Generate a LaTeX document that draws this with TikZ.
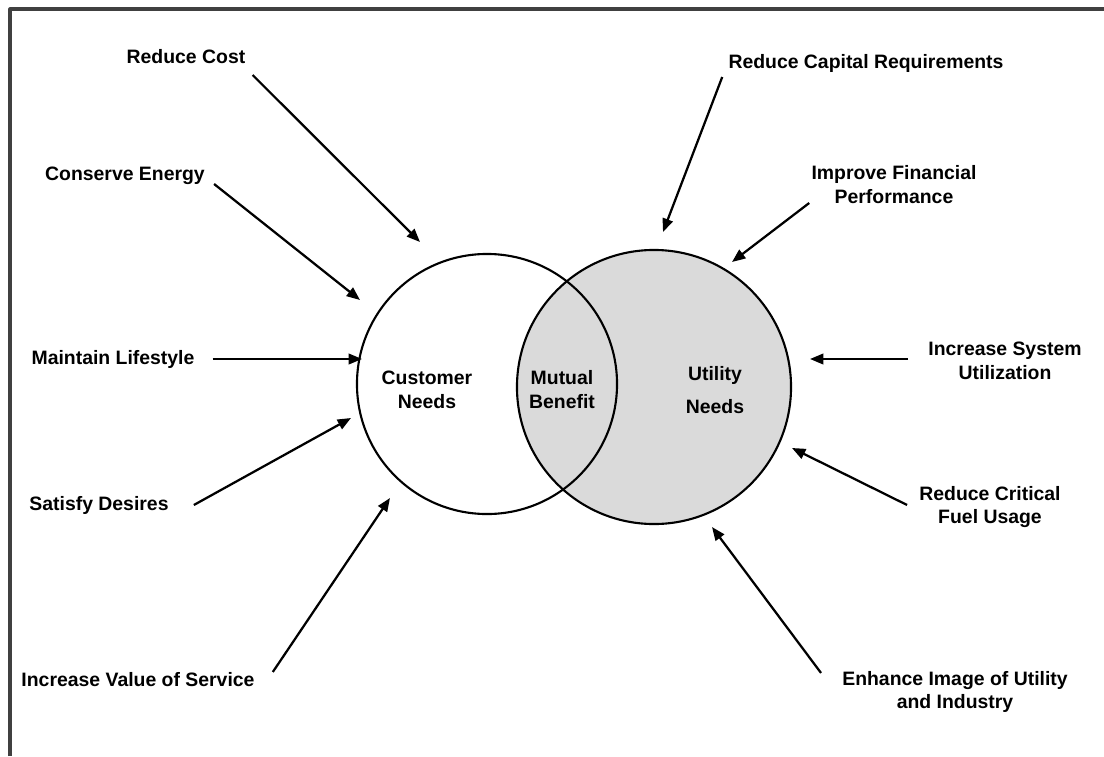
\documentclass[tikz,border=0pt]{standalone}
\usepackage{fontspec}
\setmainfont{Liberation Sans}
\usetikzlibrary{arrows.meta,positioning,calc}
\definecolor{venn}{RGB}{218,218,218}
\tikzset{lab/.style={font=\bfseries\fontsize{13.8}{17}\selectfont, align=center, inner sep=0pt},
         arr/.style={line width=1.6pt, -{Triangle[length=9.5pt,width=7.5pt]}},
         ring/.style={circle, draw, line width=1.5pt, inner sep=0pt}}
\begin{document}
\begin{tikzpicture}[x=0.025cm, y=-0.025cm, line join=round]
\useasboundingbox (0,0) rectangle (1104,756);
\draw[line width=2.2pt, black!75] (10,756) -- (10,9) -- (1104,9);
\node[ring, fill=venn, minimum size=6.85cm] (U) at (654,387) {};
\node[ring, minimum size=6.5cm] (C) at (487,384) {};
\node[lab] (cn) at (427,390) {Customer\\Needs};
\node[lab] (mb) at (562,390) {Mutual\\Benefit};
\node[lab] (un) at (715,390) {Utility\\[7pt]Needs};
\node[lab] (rc) at (186,57)  {Reduce Cost};
\node[lab] (ce) at (125,176) {Conserve Energy};
\node[lab] (ml) at (113,359) {Maintain Lifestyle};
\node[lab] (sd) at (99,505)  {Satisfy Desires};
\node[lab] (iv) at (138,680) {Increase Value of Service};
\node[lab] (rq) at (866,63)  {Reduce Capital Requirements};
\node[lab] (fp) at (894,185) {Improve Financial\\Performance};
\node[lab] (su) at (1005,361) {Increase System\\Utilization};
\node[lab] (fu) at (990,507) {Reduce Critical\\Fuel Usage};
\node[lab] (ei) at (955,692) {Enhance Image of Utility\\and Industry};
\coordinate (t1) at (420,242);
\coordinate (t2) at (360,300);
\coordinate (t3) at (362,359);
\coordinate (t4) at (351,418);
\coordinate (t5) at (390,498);
\coordinate (t6) at (663,232);
\coordinate (t7) at (732,262);
\coordinate (t8) at (810,359);
\coordinate (t9) at (792,448);
\coordinate (t10) at (712,527);
\draw[arr] ([shift={(7,18)}]rc.east) -- (t1);
\draw[arr] ([shift={(9,8)}]ce.east) -- (t2);
\draw[arr] ([shift={(18,0)}]ml.east) -- (t3);
\draw[arr] ([shift={(25,0)}]sd.east) -- (t4);
\draw[arr] ([shift={(18,-8)}]iv.east) -- (t5);
\draw[arr] ([shift={(-6,14)}]rq.west) -- (t6);
\draw[arr] ([shift={(-2,18)}]fp.west) -- (t7);
\draw[arr] ([shift={(-20,-2)}]su.west) -- (t8);
\draw[arr] ([shift={(-12,-2)}]fu.west) -- (t9);
\draw[arr] ([shift={(-21,-19)}]ei.west) -- (t10);
\end{tikzpicture}
\end{document}
